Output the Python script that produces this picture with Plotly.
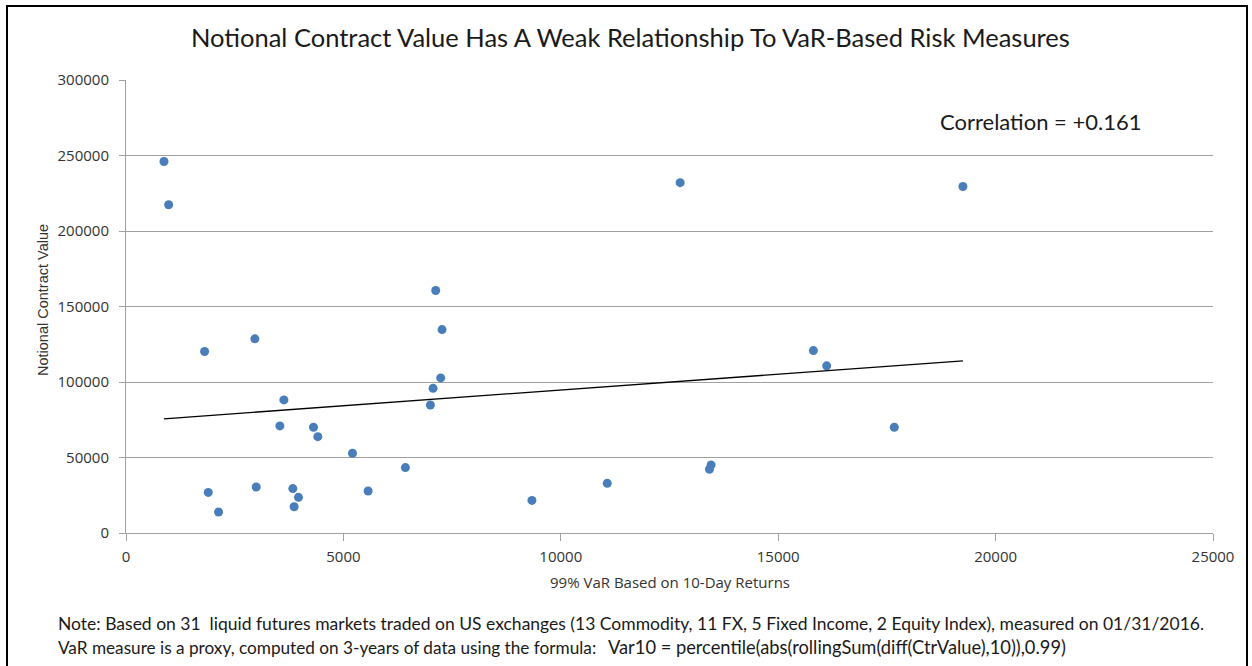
import plotly.graph_objects as go
import numpy as np

# 99% VaR based on 10-day returns (x) and notional contract value (y)
var10 = [873, 981, 1808, 2964, 3631, 3539, 4312, 4412, 5209, 6426,
         1892, 2129, 2995, 3837, 3967, 3867, 5568, 15809, 7238, 7062,
         7001, 9336, 11068, 13457, 13419, 12745, 7123, 7269, 19248, 16115,
         17670]
notional = [246000, 217400, 120200, 128600, 88150, 70900, 70000, 63800, 52800, 43300,
            26900, 13900, 30500, 29400, 23600, 17400, 27800, 120800, 102700, 95800,
            84800, 21600, 32900, 45100, 42200, 232000, 160600, 134700, 229500, 110700,
            70000]

x_ticks = [0, 5000, 10000, 15000, 20000, 25000]
y_ticks = [0, 50000, 100000, 150000, 200000, 250000, 300000]

title = "Notional Contract Value Has A Weak Relationship To VaR-Based Risk Measures"
x_title = "99% VaR Based on 10-Day Returns"
y_title = "Notional Contract Value"
corr_text = "Correlation = +0.161"
note1 = "Note: Based on 31  liquid futures markets traded on US exchanges (13 Commodity, 11 FX, 5 Fixed Income, 2 Equity Index), measured on 01/31/2016."
note2a = "VaR measure is a proxy, computed on 3-years of data using the formula:"
note2b = "Var10 = percentile(abs(rollingSum(diff(CtrValue),10)),0.99)"

W, H = 1252, 666
ML, MR, MT, MB = 126, 39, 80, 133
PW, PH = W - ML - MR, H - MT - MB

def px(x):
    return (x - ML) / PW

def py(y):
    return (H - MB - y) / PH

# linear trendline fitted to the data
xa = np.array(var10, dtype=float)
ya = np.array(notional, dtype=float)
slope, intercept = np.polyfit(xa, ya, 1)
tx = [xa.min(), xa.max()]
ty = [slope * v + intercept for v in tx]

fig = go.Figure()
fig.add_trace(go.Scatter(x=var10, y=notional, mode="markers",
                         marker=dict(size=9, color="#4a7ebb"),
                         showlegend=False, hoverinfo="x+y"))
fig.add_trace(go.Scatter(x=tx, y=ty, mode="lines",
                         line=dict(color="#000000", width=1.3),
                         showlegend=False, hoverinfo="skip"))

grid = "#a0a0a0"
tickfont = dict(family="Open Sans", size=15, color="#333333")
fig.update_xaxes(range=[0, 25000], tickvals=x_ticks, ticktext=[str(v) for v in x_ticks],
                 showgrid=False, zeroline=False, showline=True, linecolor=grid, linewidth=1,
                 ticks="outside", ticklen=7, tickcolor=grid, tickfont=tickfont,
                 ticklabelstandoff=3)
fig.update_yaxes(range=[0, 300000], tickvals=y_ticks, ticktext=[str(v) for v in y_ticks],
                 showgrid=True, gridcolor=grid, gridwidth=1, zeroline=False,
                 showline=True, linecolor=grid, linewidth=1,
                 ticks="outside", ticklen=6, tickcolor=grid, tickfont=tickfont,
                 ticklabelstandoff=7)

ann = []
ann.append(dict(text=title, x=px(630), y=py(37), xref="paper", yref="paper",
                showarrow=False, xanchor="center", yanchor="middle",
                font=dict(family="Lato", size=25.5, color="#1a1a1a")))
ann.append(dict(text=corr_text, x=px(1040), y=py(121), xref="paper", yref="paper",
                showarrow=False, xanchor="center", yanchor="middle",
                font=dict(family="Lato", size=22, color="#1a1a1a")))
ann.append(dict(text=x_title, x=px(670), y=py(582), xref="paper", yref="paper",
                showarrow=False, xanchor="center", yanchor="middle",
                font=dict(family="Open Sans", size=15, color="#333333")))
ann.append(dict(text=y_title, x=px(43), y=py(300), xref="paper", yref="paper",
                showarrow=False, xanchor="center", yanchor="middle", textangle=-90,
                font=dict(family="Liberation Sans", size=14.5, color="#333333")))
ann.append(dict(text=note1, x=px(56), y=py(623), xref="paper", yref="paper",
                showarrow=False, xanchor="left", yanchor="middle",
                font=dict(family="Lato", size=17.5, color="#1a1a1a")))
ann.append(dict(text=note2a, x=px(56), y=py(647), xref="paper", yref="paper",
                showarrow=False, xanchor="left", yanchor="middle",
                font=dict(family="Lato", size=17.2, color="#1a1a1a")))
ann.append(dict(text=note2b, x=px(606), y=py(647), xref="paper", yref="paper",
                showarrow=False, xanchor="left", yanchor="middle",
                font=dict(family="Lato", size=18.3, color="#1a1a1a")))

fig.update_layout(
    width=W, height=H,
    margin=dict(l=ML, r=MR, t=MT, b=MB),
    paper_bgcolor="white", plot_bgcolor="white",
    annotations=ann,
    shapes=[dict(type="rect", xref="paper", yref="paper",
                 x0=px(7), x1=px(1247), y0=py(675), y1=py(6),
                 line=dict(color="#000000", width=2), fillcolor="rgba(0,0,0,0)",
                 layer="above")],
)

fig.write_html("out.html", config={"displayModeBar": False},
               post_script="document.body.style.margin='0px';document.body.style.overflow='hidden';")
